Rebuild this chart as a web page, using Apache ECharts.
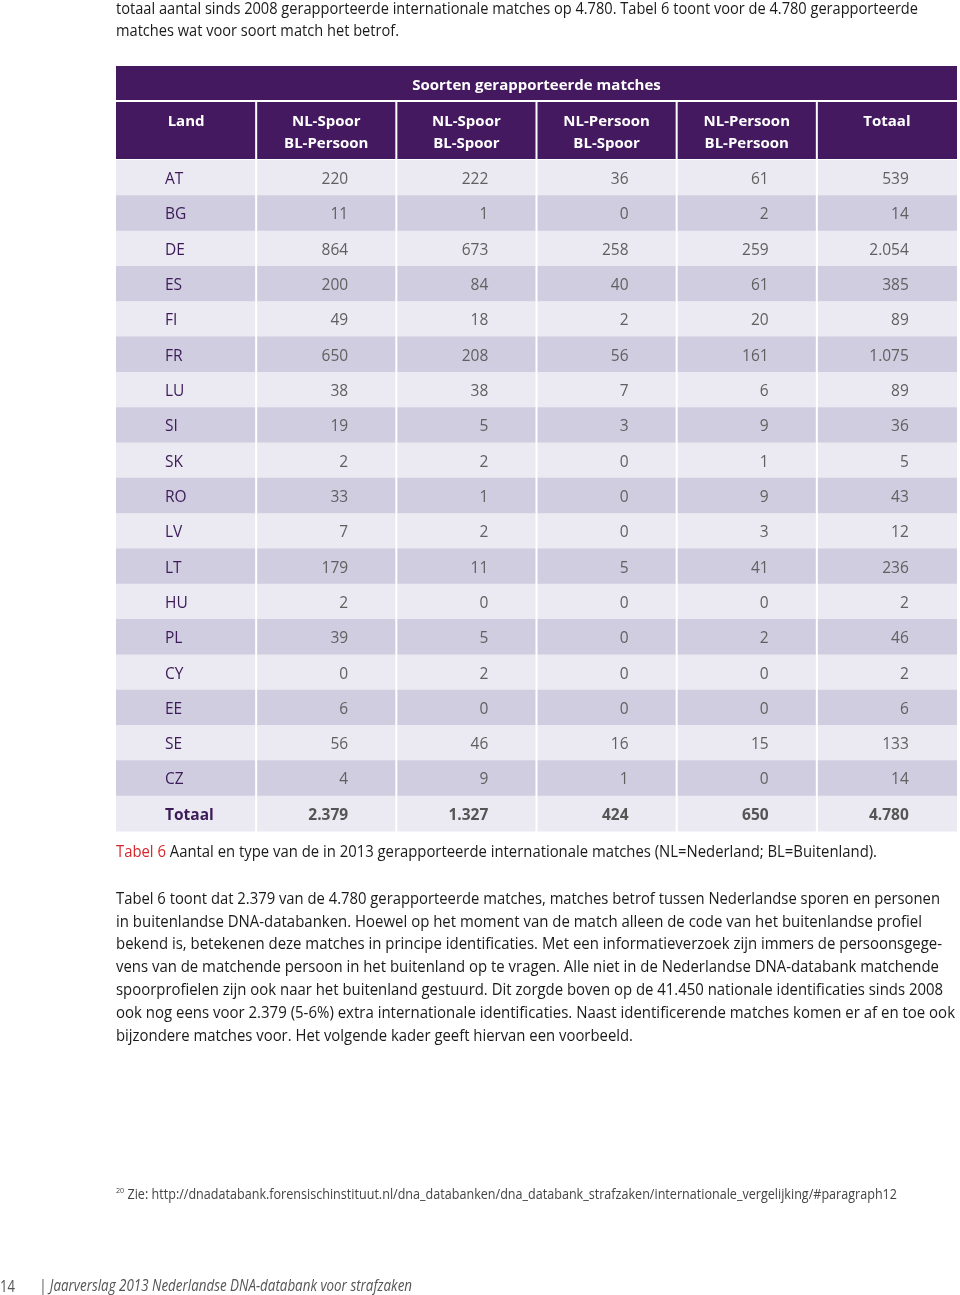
<!DOCTYPE html>
<html><head><meta charset="utf-8">
<script src="https://cdn.jsdelivr.net/npm/echarts@6/dist/echarts.min.js"></script>
<style>html,body{margin:0;padding:0;background:#fff}#c{width:960px;height:1295px}</style>
</head><body><div id="c"></div>
<script>
// ---- data ----
const columns = ["Land", "NL-Spoor\nBL-Persoon", "NL-Spoor\nBL-Spoor", "NL-Persoon\nBL-Spoor", "NL-Persoon\nBL-Persoon", "Totaal"];
const groupTitle = "Soorten gerapporteerde matches";
const countries = ["AT","BG","DE","ES","FI","FR","LU","SI","SK","RO","LV","LT","HU","PL","CY","EE","SE","CZ"];
const nlSpoorBlPersoon   = [220, 11, 864, 200, 49, 650, 38, 19, 2, 33, 7, 179, 2, 39, 0, 6, 56, 4];
const nlSpoorBlSpoor     = [222, 1, 673, 84, 18, 208, 38, 5, 2, 1, 2, 11, 0, 5, 2, 0, 46, 9];
const nlPersoonBlSpoor   = [36, 0, 258, 40, 2, 56, 7, 3, 0, 0, 0, 5, 0, 0, 0, 0, 16, 1];
const nlPersoonBlPersoon = [61, 2, 259, 61, 20, 161, 6, 9, 1, 9, 3, 41, 0, 2, 0, 0, 15, 0];
const totaal             = [539, 14, 2054, 385, 89, 1075, 89, 36, 5, 43, 12, 236, 2, 46, 2, 6, 133, 14];
const totalLabel = "Totaal";
const totalRow = [2379, 1327, 424, 650, 4780];

const topText = [
  "totaal aantal sinds 2008 gerapporteerde internationale matches op 4.780. Tabel 6 toont voor de 4.780 gerapporteerde",
  "matches wat voor soort match het betrof."
];
const captionLabel = "Tabel 6";
const captionText = " Aantal en type van de in 2013 gerapporteerde internationale matches (NL=Nederland; BL=Buitenland).";
const paragraph = [
  "Tabel 6 toont dat 2.379 van de 4.780 gerapporteerde matches, matches betrof tussen Nederlandse sporen en personen",
  "in buitenlandse DNA-databanken. Hoewel op het moment van de match alleen de code van het buitenlandse profiel",
  "bekend is, betekenen deze matches in principe identificaties. Met een informatieverzoek zijn immers de persoonsgege-",
  "vens van de matchende persoon in het buitenland op te vragen. Alle niet in de Nederlandse DNA-databank matchende",
  "spoorprofielen zijn ook naar het buitenland gestuurd. Dit zorgde boven op de 41.450 nationale identificaties sinds 2008",
  "ook nog eens voor 2.379 (5-6%) extra internationale identificaties. Naast identificerende matches komen er af en toe ook",
  "bijzondere matches voor. Het volgende kader geeft hiervan een voorbeeld."
];
const footnoteNum = "20";
const footnoteText = " Zie: http://dnadatabank.forensischinstituut.nl/dna_databanken/dna_databank_strafzaken/internationale_vergelijking/#paragraph12";
const pageNum = "14";
const footerText = "| Jaarverslag 2013 Nederlandse DNA-databank voor strafzaken";

// ---- layout (text block widths measured from the page) ----
const topWidths = [802, 283];
const paraWidths = [824, 806, 826, 823, 827, 839, 517];

// ---- build ----
const rowLabels = countries.concat([totalLabel]);
const fmt = n => String(n).replace(/\B(?=(\d{3})+(?!\d))/g, ".");
const cells = [];
const valueCols = [nlSpoorBlPersoon, nlSpoorBlSpoor, nlPersoonBlSpoor, nlPersoonBlPersoon, totaal];
countries.forEach((c, r) => {
  cells.push([0, r, c]);
  valueCols.forEach((arr, k) => cells.push([k + 1, r, fmt(arr[r])]));
});
const tr = countries.length;
cells.push([0, tr, totalLabel]);
totalRow.forEach((v, k) => cells.push([k + 1, tr, fmt(v)]));

const TF = '"Open Sans", "Noto Sans", sans-serif';
const NF = '"Open Sans", "Noto Sans", sans-serif';
const PURPLE = '#44195f';
const LIGHT = '#ebe9f1';
const DARK = '#d1cde0';

const mctx = document.createElement('canvas').getContext('2d');
function measure(text, font) { mctx.font = font; return mctx.measureText(text).width; }
function fitText(text, font, x, y, width, fill, extra) {
  const w = measure(text, font);
  return Object.assign({type: 'text', x, y, scaleX: width / w, originX: 0,
    style: {text, font, fill, verticalAlign: 'middle', align: 'left'}}, extra || {});
}

const chart = echarts.init(document.getElementById('c'), null, {renderer: 'canvas'});

const graphics = [];
const PF = '17px ' + NF;
topText.forEach((t, i) => graphics.push(fitText(t, PF, 116, 9 + i * 22.5, topWidths[i], '#1a1a1a')));
{
  const f = '15.5px ' + TF;
  const w = measure(captionLabel + captionText, f);
  graphics.push({type: 'text', x: 116, y: 853, scaleX: 761 / w, originX: 0, style: {
    text: '{r|' + captionLabel + '}{b|' + captionText + '}', verticalAlign: 'middle', align: 'left',
    rich: {r: {font: f, fill: '#d7262b'}, b: {font: f, fill: '#1a1a1a'}}}});
}
paragraph.forEach((t, i) => graphics.push(fitText(t, PF, 116, 899 + i * 22.8, paraWidths[i], '#1a1a1a')));
{
  const f = '14px ' + NF;
  const w = measure(footnoteText, f) + measure(footnoteNum, '8px ' + NF);
  graphics.push({type: 'text', x: 116, y: 1195, scaleX: 781 / w, originX: 0, style: {
    text: '{s|' + footnoteNum + '}{t|' + footnoteText + '}', verticalAlign: 'middle', align: 'left',
    rich: {s: {font: '8px ' + NF, fill: '#444', verticalAlign: 'top', padding: [0, 0, 8, 0]}, t: {font: f, fill: '#444'}}}});
}
graphics.push(fitText(pageNum, '16px ' + NF, 0, 1287, 15, '#555'));
graphics.push(fitText(footerText, 'italic 15.5px ' + NF, 39, 1287, 373, '#555'));

chart.setOption({
  animation: false,
  backgroundColor: '#fff',
  grid: {left: 116, right: 3, top: 160, height: 671},
  xAxis: {
    type: 'category', data: columns, position: 'top', z: 20,
    axisLine: {show: false}, axisTick: {show: false}, splitLine: {show: false},
    axisLabel: {interval: 0, margin: 5, color: '#fff', fontFamily: TF, fontWeight: 'bold', fontSize: 15, lineHeight: 22,
      formatter: v => v.indexOf('\n') >= 0 ? v : v + '\n '}
  },
  yAxis: {type: 'category', data: rowLabels, inverse: true, show: false},
  graphic: graphics,
  series: [
    { // header cells
      type: 'custom', clip: false, z: 1, silent: true,
      data: columns.map((c, i) => [i, 0]),
      renderItem(params, api) {
        const col = api.value(0);
        const p = api.coord([col, 0]);
        const bw = api.size([1, 1])[0];
        const top = params.coordSys.y;
        const x0 = p[0] - bw / 2;
        const last = col === columns.length - 1;
        const children = [{type: 'rect', shape: {x: x0 + (col ? 1 : 0), y: top - 58, width: bw - (col ? 1 : 0) - (last ? 0 : 1), height: 57}, style: {fill: PURPLE}}];
        if (col === 0) {
          children.push({type: 'rect', shape: {x: params.coordSys.x, y: top - 94, width: params.coordSys.width, height: 34}, style: {fill: PURPLE}});
        }
        if (col === 1) {
          const pEnd = api.coord([columns.length - 2, 0]);
          const cx = (x0 + pEnd[0] + bw / 2) / 2;
          children.push({type: 'text', x: cx, y: top - 74, style: {text: groupTitle, font: 'bold 15px ' + TF, fill: '#fff', align: 'center', verticalAlign: 'middle'}});
        }
        return {type: 'group', children};
      }
    },
    { // body cells
      type: 'custom', clip: false, z: 2, silent: true,
      data: cells,
      renderItem(params, api) {
        const col = api.value(0), row = api.value(1);
        const txt = cells[params.dataIndex][2];
        const p = api.coord([col, row]);
        const sz = api.size([1, 1]);
        const x0 = p[0] - sz[0] / 2, y0 = p[1] - sz[1] / 2;
        const last = col === columns.length - 1;
        const isTotal = row === rowLabels.length - 1;
        const fill = row % 2 === 0 ? LIGHT : DARK;
        const children = [{type: 'rect', shape: {x: x0 + (col ? 1 : 0), y: y0, width: sz[0] - (col ? 1 : 0) - (last ? 0 : 1), height: sz[1] + 0.5}, style: {fill}}];
        const weight = isTotal ? 'bold ' : '';
        if (col === 0) {
          children.push({type: 'text', x: x0 + 49, y: p[1] + 2, style: {text: txt, font: weight + '15.5px ' + TF, fill: '#3b1a57', align: 'left', verticalAlign: 'middle'}});
        } else {
          children.push({type: 'text', x: x0 + 92, y: p[1] + 2, style: {text: txt, font: weight + '15.5px ' + TF, fill: isTotal ? '#555' : '#606060', align: 'right', verticalAlign: 'middle'}});
        }
        return {type: 'group', children};
      }
    }
  ]
});
</script></body></html>
